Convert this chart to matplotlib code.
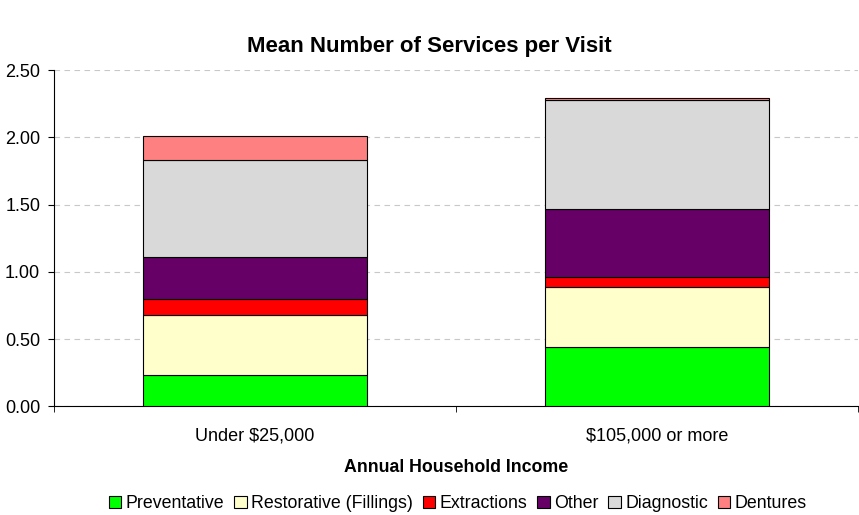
import matplotlib.pyplot as plt
import numpy as np

# Data
categories = ['Under $25,000', '$105,000 or more']
series_names = ['Preventative', 'Restorative (Fillings)', 'Extractions', 'Other', 'Diagnostic', 'Dentures']
preventative = [0.23, 0.44]
restorative = [0.45, 0.45]
extractions = [0.115, 0.07]
other = [0.315, 0.505]
diagnostic = [0.72, 0.81]
dentures = [0.18, 0.02]
colors = ['#00FF00', '#FFFFCC', '#FF0000', '#660066', '#D9D9D9', '#FF8080']

plt.rcParams['font.family'] = ['Liberation Sans', 'DejaVu Sans']

fig = plt.figure(figsize=(8.59, 5.15), dpi=100)
ax = fig.add_axes([0.063, 0.211, 0.936, 0.653])

x = np.arange(len(categories))
bottom = np.zeros(len(categories))
for name, vals, c in zip(series_names, [preventative, restorative, extractions, other, diagnostic, dentures], colors):
    ax.bar(x, vals, width=0.557, bottom=bottom, color=c, edgecolor='black', linewidth=0.8, label=name, zorder=3)
    bottom += np.array(vals)

ax.set_xlim(-0.5, 1.5)
ax.set_ylim(0, 2.5)
ax.set_yticks(np.arange(0, 2.51, 0.5))
ax.set_yticklabels([f'{v:.2f}' for v in np.arange(0, 2.51, 0.5)], fontsize=13)
ax.set_xticks(x)
ax.set_xticklabels(categories, fontsize=13)
ax.set_xticks([-0.5, 0.5, 1.5], minor=True)
ax.tick_params(axis='x', which='major', length=0, pad=15)
ax.tick_params(axis='x', which='minor', length=4, direction='out')
ax.tick_params(axis='y', length=4, direction='out', pad=6)
ax.grid(axis='y', color='#C8C8C8', linestyle=(0, (5, 4)), linewidth=0.8, zorder=0)
for s in ['top', 'right']:
    ax.spines[s].set_visible(False)

# title centred on the figure, not the axes
ax.set_title('Mean Number of Services per Visit', fontsize=16, fontweight='bold', x=0.467, pad=13)
ax.set_xlabel('Annual Household Income', fontsize=12.8, fontweight='bold', labelpad=11)

fig.legend(loc='lower center', bbox_to_anchor=(0.533, -0.008), ncol=6, fontsize=12.8, frameon=False,
           handlelength=0.7, handleheight=0.7, handletextpad=0.25, columnspacing=0.55, borderaxespad=0.0)

fig.savefig('out.png', dpi=100)
